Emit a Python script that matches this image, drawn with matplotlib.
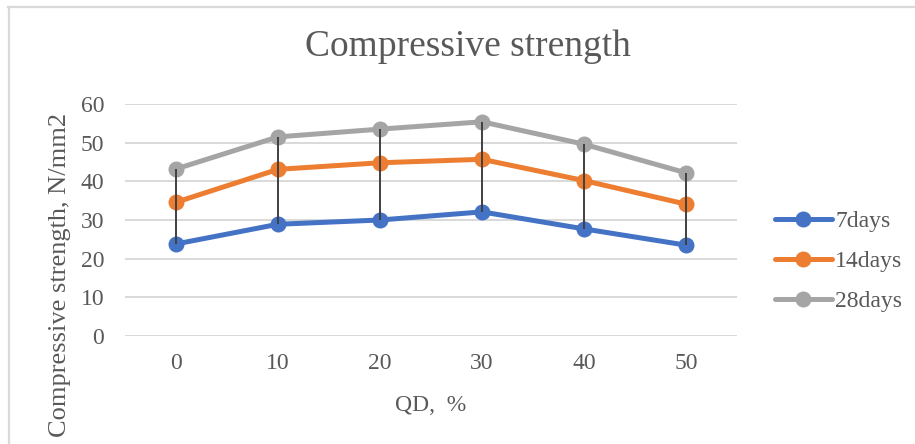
import numpy as np
import matplotlib
matplotlib.use("Agg")
import matplotlib.pyplot as plt
from matplotlib.lines import Line2D

# ---- data ----
qd_labels = ["0", "10", "20", "30", "40", "50"]
days7 = [23.8, 28.9, 30.0, 32.1, 27.7, 23.5]
days14 = [34.6, 43.1, 44.8, 45.7, 40.2, 34.1]
days28 = [43.2, 51.5, 53.5, 55.4, 49.6, 42.2]
series_names = ["7days", "14days", "28days"]
yticks = [0, 10, 20, 30, 40, 50, 60]

colors = ["#4472C4", "#ED7D31", "#A5A5A5"]
txt = "#595959"
plt.rcParams['font.family'] = ['Liberation Serif', 'DejaVu Serif']

W, H = 915, 444
fig = plt.figure(figsize=(W / 100, H / 100), dpi=100)
ax = fig.add_axes([125 / W, 1 - 336 / H, 612 / W, 232 / H])

x = np.arange(len(qd_labels))
handles = []
for vals, c, name in zip([days7, days14, days28], colors, series_names):
    h, = ax.plot(x, vals, color=c, lw=3.6, marker='o', markersize=10.5,
                 solid_capstyle='round', zorder=3, label=name)
    handles.append(h)

allv = np.array([days7, days14, days28])
ax.vlines(x, allv.min(axis=0), allv.max(axis=0), color='#404040', lw=1.4, zorder=5)

ax.set_xlim(-0.5, len(qd_labels) - 0.5)
ax.set_ylim(0, 60)
ax.set_yticks(yticks)
ax.set_xticks(x)
ax.set_xticklabels(qd_labels)
ax.yaxis.grid(True, color='#D9D9D9', lw=1.4)
ax.set_axisbelow(True)
for s in ax.spines.values():
    s.set_visible(False)
ax.tick_params(axis='both', length=0, labelsize=17, colors=txt)
ax.tick_params(axis='y', pad=15)
ax.tick_params(axis='x', pad=12)

fig.text(468 / W, 1 - 56 / H, "Compressive strength", ha='center', va='baseline',
         fontsize=27, color=txt)
fig.text(60 / W, 1 - 275 / H, "Compressive strength, N/mm2", rotation=90,
         ha='center', va='center', fontsize=19, color=txt)
fig.text(431 / W, 1 - 405 / H, "QD,  %", ha='center', va='center',
         fontsize=17, color=txt)

fig.legend(handles=handles, loc='center left', bbox_to_anchor=(775 / W, 1 - 261.5 / H),
           frameon=False, fontsize=17, handlelength=2.4, handletextpad=0.15,
           labelspacing=0.78, borderpad=0, borderaxespad=0, labelcolor=txt)

# chart border (top and left edges visible)
fig.add_artist(Line2D([8 / W, 1.0], [1 - 7 / H, 1 - 7 / H], color='#D9D9D9', lw=1.6))
fig.add_artist(Line2D([9 / W, 9 / W], [0, 1 - 7 / H], color='#D9D9D9', lw=1.6))

fig.savefig("out.png", dpi=100)
